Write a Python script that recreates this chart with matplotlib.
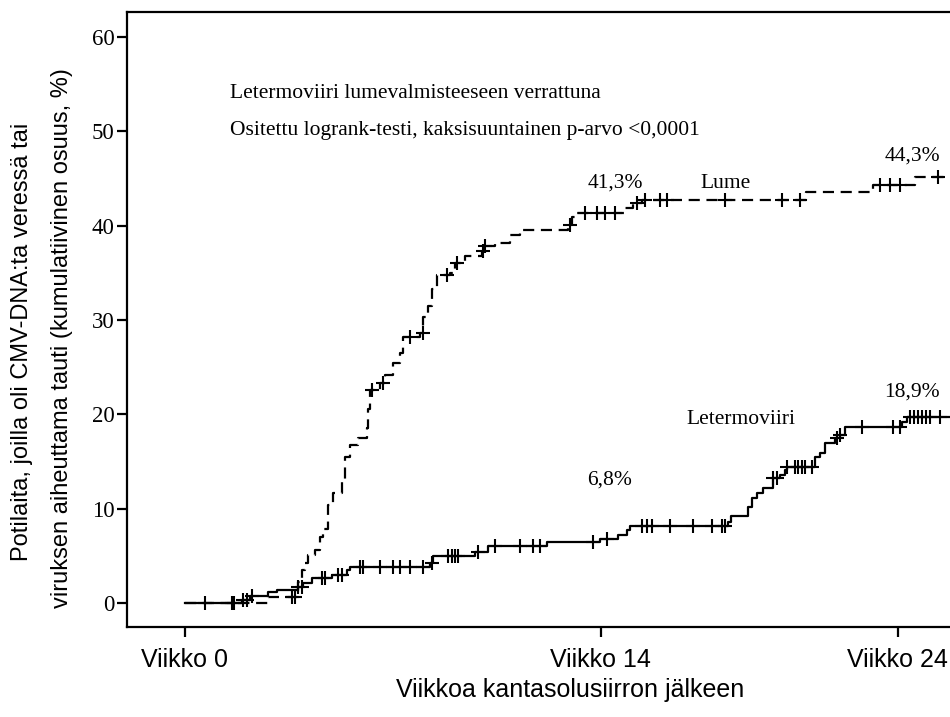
import numpy as np
import matplotlib
matplotlib.use("Agg")
import matplotlib.pyplot as plt

# ---------------- data ----------------
# Lume (placebo): step times (weeks) and cumulative incidence (%)
lume_t = [0, 2.8, 3.8, 3.94, 4.04, 4.14, 4.38, 4.54, 4.64, 4.81, 4.98, 5.28, 5.39, 5.55,
          5.82, 6.13, 6.16, 6.23, 6.56, 6.73, 7.0, 7.24, 7.34, 7.91, 8.01, 8.18, 8.31,
          8.48, 8.92, 9.09, 9.42, 10.0, 10.1, 10.43, 10.94, 11.28, 12.89, 13.03, 13.13,
          14.81, 15.08, 15.38, 20.9, 23.16, 24.57]
lume_y = [0, 0.6, 2.2, 3.5, 4.2, 5.1, 5.6, 7.0, 7.8, 10.4, 11.7, 12.8, 15.5, 16.8,
          17.5, 18.6, 20.6, 22.6, 23.3, 24.2, 25.4, 26.5, 28.2, 28.6, 30.3, 31.5, 33.3,
          34.8, 35.0, 36.0, 36.8, 37.3, 37.8, 38.2, 39.0, 39.5, 40.1, 40.9, 41.3,
          41.9, 42.4, 42.7, 43.6, 44.3, 45.2]
lume_cens = [3.6, 3.7, 6.29, 6.66, 7.57, 8.0, 8.82, 9.16, 10.03, 10.1, 12.96, 13.46,
             13.87, 14.14, 14.47, 15.21, 15.48, 15.99, 16.22, 18.18, 20.1, 20.7, 23.39,
             23.73, 24.07, 25.35]

# Letermoviiri
let_t = [0, 1.92, 2.19, 2.79, 3.1, 3.8, 3.97, 4.27, 4.95, 5.45, 5.55, 8.25, 8.35, 9.76,
         10.2, 12.18, 13.98, 14.57, 14.88, 14.98, 18.28, 18.38, 18.95, 19.08, 19.25,
         19.45, 19.79, 20.03, 20.2, 20.26, 21.2, 21.37, 21.54, 21.88, 22.05, 22.21,
         24.13, 24.3]
let_y = [0, 0.3, 0.7, 1.2, 1.4, 1.7, 2.1, 2.7, 3.0, 3.5, 3.8, 4.2, 5.0, 5.4,
         6.0, 6.5, 6.8, 7.2, 7.7, 8.2, 8.6, 9.2, 10.2, 11.1, 11.7,
         12.2, 13.2, 13.6, 14.1, 14.4, 15.5, 15.9, 17.0, 17.5, 17.8, 18.7,
         19.2, 19.7]
let_cens = [0.67, 1.58, 1.65, 1.95, 2.09, 2.26, 3.8, 3.94, 4.61, 4.71, 5.15, 5.28, 5.89,
            5.99, 6.56, 7.0, 7.24, 7.57, 8.01, 8.31, 8.85, 8.99, 9.09, 9.19, 9.86, 10.43,
            11.28, 11.71, 11.95, 13.73, 14.2, 15.38, 15.55, 15.72, 16.32, 17.1, 17.74,
            18.08, 18.18, 19.79, 19.93, 20.26, 20.53, 20.63, 20.77, 20.87, 21.1, 21.95,
            22.05, 22.79, 23.83, 24.07, 24.4, 24.54, 24.67, 24.8, 24.94, 25.07, 25.41]

end_time = 26.0

xticks = [0, 14, 24]
xtick_labels = ["Viikko 0", "Viikko 14", "Viikko 24"]
yticks = [0, 10, 20, 30, 40, 50, 60]

annotations = [
    ("41,3%", 14.5, 44.5),
    ("Lume", 18.2, 44.5),
    ("44,3%", 24.48, 47.4),
    ("18,9%", 24.48, 22.4),
    ("Letermoviiri", 18.7, 19.5),
    ("6,8%", 14.3, 13.0),
]

SERIF = ["Liberation Serif", "DejaVu Serif"]
SANS = ["Liberation Sans", "DejaVu Sans"]

fig = plt.figure(figsize=(9.5, 7.17), dpi=100)
ax = fig.add_axes([127 / 950, 90 / 717, (960 - 127) / 950, (705 - 90) / 717])
ax.set_xlim(-1.952, 26.09)
ax.set_ylim(-2.544, 62.65)


def step_xy(t, y):
    tt = list(t) + [end_time]
    yy = list(y) + [y[-1]]
    return tt, yy


def value_at(t, y, times):
    idx = np.searchsorted(np.array(t), np.array(times), side="right") - 1
    return np.array(y)[idx]


tt, yy = step_xy(let_t, let_y)
ax.step(tt, yy, where="post", color="black", lw=1.6)
ax.plot(let_cens, value_at(let_t, let_y, let_cens), ls="none", marker="+",
        color="black", ms=10, mew=1.5)

tt, yy = step_xy(lume_t, lume_y)
ax.step(tt, yy, where="post", color="black", lw=1.6, ls=(0, (5, 3)))
ax.plot(lume_cens, value_at(lume_t, lume_y, lume_cens), ls="none", marker="+",
        color="black", ms=10, mew=1.5)

for s in ["top", "bottom", "left", "right"]:
    ax.spines[s].set_linewidth(1.6)
ax.spines["right"].set_visible(False)

ax.set_xticks(xticks)
ax.set_xticklabels(xtick_labels, family=SANS, fontsize=18)
ax.set_yticks(yticks)
ax.set_yticklabels([str(v) for v in yticks], family=SERIF, fontsize=16.5)
ax.tick_params(axis="both", direction="out", length=7, width=1.6, color="black")
ax.tick_params(axis="x", pad=8)
ax.tick_params(axis="y", pad=2)

ax.text(230 / 950, 1 - 93 / 717, "Letermoviiri lumevalmisteeseen verrattuna",
        transform=fig.transFigure, family=SERIF, fontsize=15.5, va="center", ha="left")
ax.text(230 / 950, 1 - 131 / 717, "Ositettu logrank-testi, kaksisuuntainen p-arvo <0,0001",
        transform=fig.transFigure, family=SERIF, fontsize=15.5, va="center", ha="left")

for txt, x, y in annotations:
    ax.text(x, y, txt, family=SERIF, fontsize=15.5, ha="center", va="center")

fig.text(22 / 950, 1 - 342 / 717, "Potilaita, joilla oli CMV-DNA:ta veressä tai",
         rotation=90, family=SANS, fontsize=17, ha="center", va="center")
fig.text(62 / 950, 1 - 338 / 717, "viruksen aiheuttama tauti (kumulatiivinen osuus, %)",
         rotation=90, family=SANS, fontsize=17, ha="center", va="center")
fig.text(570 / 950, 1 - 690 / 717, "Viikkoa kantasolusiirron jälkeen",
         family=SANS, fontsize=18, ha="center", va="center")

fig.savefig("out.png", dpi=100, facecolor="white")
